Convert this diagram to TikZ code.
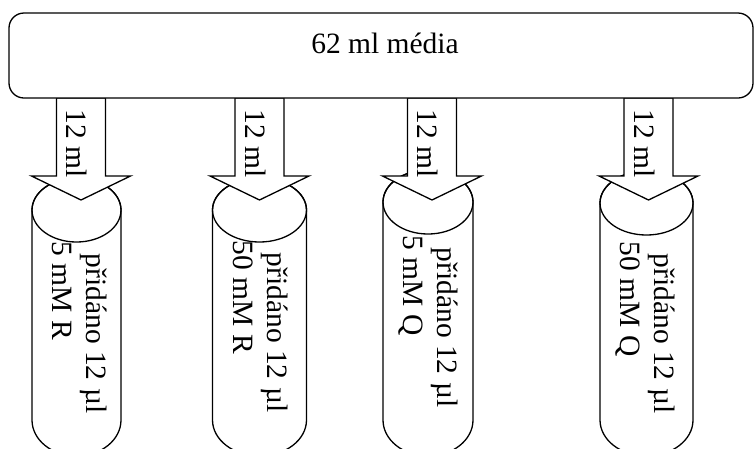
\documentclass[tikz,border=0pt]{standalone}
\usepackage{fontspec}
\setmainfont{Liberation Serif}
\begin{document}
\begin{tikzpicture}[x=1pt,y=-1pt,line width=1.3pt,
  lbl/.style={font=\fontsize{29.5}{34}\selectfont, inner sep=0pt, text=black},
  vlbl/.style={lbl, rotate=-90, anchor=base west},
  solid shape/.style={draw=black, fill=white, line join=miter}]
\useasboundingbox (0,0) rectangle (754,448);
\clip (0,0) rectangle (754,448);

% tubes and the arrows that fill them
\foreach \i/\ac/\cc/\rx/\ey/\ty/\lb in {
    1/81/76.5/44.5/210/243/5 mM R,
    2/259.5/259.5/47/210/242/50 mM R,
    3/432/428/45/202/237/5 mM Q,
    4/648.5/646.5/46.5/203/243/50 mM Q}{
  % tube body with rounded bottom
  \path[solid shape] (\cc-\rx,\ey) coordinate (tl\i) -- (\cc-\rx,420)
    arc[start angle=180, end angle=0, x radius=\rx, y radius=36]
    -- (\cc+\rx,\ey) coordinate (tr\i)
    arc[start angle=0, end angle=-180, x radius=\rx, y radius=32] -- cycle;
  % tube mouth
  \draw (\cc,\ey) ellipse[x radius=\rx, y radius=32];
  % block arrow
  \path[solid shape] (\ac-24.5,98) -- (\ac-24.5,176) -- (\ac-49.5,176)
    -- (\ac,200) coordinate (tip\i) -- (\ac+49.5,176) -- (\ac+24.5,176)
    -- (\ac+24.5,98) -- cycle;
  \node[vlbl] (vol\i) at (\ac-14.5,109) {12 ml};
  \node[vlbl] (add\i) at (\cc-\rx+54.5,\ty+10) {přidáno 12 µl};
  \node[vlbl] (conc\i) at (\cc-\rx+20.5,\ty-2) {\lb};
}

% medium reservoir
\draw[solid shape, rounded corners=15] (9,13) rectangle (753,98);
\node[lbl, anchor=base] (medium) at (385,53) {62 ml média};
\end{tikzpicture}
\end{document}
